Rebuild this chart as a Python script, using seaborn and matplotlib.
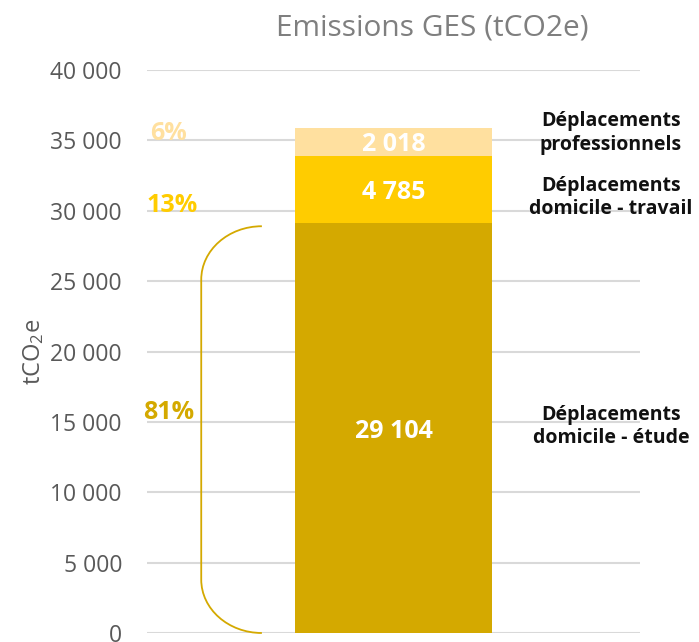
import matplotlib
matplotlib.use("Agg")
import matplotlib.pyplot as plt
import seaborn as sns
import pandas as pd
from matplotlib.path import Path
from matplotlib.patches import PathPatch
from matplotlib.ticker import FuncFormatter

categories = ["Déplacements\ndomicile - étude", "Déplacements\ndomicile - travail", "Déplacements\nprofessionnels"]
values = [29104, 4785, 2018]
value_labels = ["29 104", "4 785", "2 018"]
percents = ["81%", "13%", "6%"]
colors = ["#D4A900", "#FFCC00", "#FFE09F"]
yticks = [0, 5000, 10000, 15000, 20000, 25000, 30000, 35000, 40000]

sns.set_theme(style="white")
plt.rcParams["font.family"] = ["Open Sans", "DejaVu Sans"]
plt.rcParams["mathtext.fontset"] = "custom"
plt.rcParams["mathtext.rm"] = "Open Sans"
plt.rcParams["mathtext.it"] = "Open Sans"

fig = plt.figure(figsize=(6.99, 6.42), dpi=100)
ax = fig.add_axes([147/699, 1-633/642, (640-147)/699, (633-70)/642])

cum = []
s = 0
for v in values:
    s += v
    cum.append(s)
df = pd.DataFrame({"x": ["GES"] * 3, "cum": cum, "seg": categories})

# draw cumulative bars from the largest down so they stack visually
for i in range(len(values) - 1, -1, -1):
    sns.barplot(data=df.iloc[[i]], x="x", y="cum", color=colors[i], width=0.4,
                saturation=1, ax=ax, zorder=3, edgecolor="none")

ax.set_xlim(-0.5, 0.5)
ax.set_ylim(0, 40000)
ax.set_yticks(yticks)
ax.yaxis.set_major_formatter(FuncFormatter(lambda v, p: f"{int(v):,}".replace(",", " ")))
ax.tick_params(axis="y", labelsize=16.5, labelcolor="#595959", length=0, pad=18)
ax.set_xticks([])
ax.set_xlabel("")
ax.set_ylabel("tCO$_2$e", fontsize=17, color="#595959", labelpad=3)
ax.yaxis.grid(True, color="#D9D9D9", linewidth=1.5, zorder=0)
ax.set_axisbelow(True)
for sp in ax.spines.values():
    sp.set_visible(False)

# value labels inside bars
bottom = 0
for i, v in enumerate(values):
    ax.text(0, bottom + v / 2, value_labels[i], ha="center", va="center_baseline",
            color="white", fontsize=18, fontweight="bold", zorder=5)
    bottom += v

# percent labels on the left
pct_y = [15700, 30400, 35500]
pct_x = [-0.508, -0.5, -0.494]
for i in range(3):
    ax.text(pct_x[i], pct_y[i], percents[i], ha="left", va="center",
            color=colors[i], fontsize=18, fontweight="bold", zorder=5)

# category labels on the right
cat_y = [14670, 30940, 35500]
for i in range(3):
    ax.text(0.441, cat_y[i], categories[i], ha="center", va="center",
            color="#111111", fontsize=14, fontweight="bold", linespacing=1.25,
            zorder=5, clip_on=False)

# bracket
x0, x1 = -0.39, -0.267
ytop, ybot = 28900, 0
ry = 3800
rx = x1 - x0
k = 0.5523
verts = [
    (x1, ytop),
    (x1 - k * rx, ytop), (x0, ytop - ry + k * ry), (x0, ytop - ry),
    (x0, ybot + ry),
    (x0, ybot + ry - k * ry), (x1 - k * rx, ybot), (x1, ybot),
]
codes = [Path.MOVETO, Path.CURVE4, Path.CURVE4, Path.CURVE4, Path.LINETO,
         Path.CURVE4, Path.CURVE4, Path.CURVE4]
ax.add_patch(PathPatch(Path(verts, codes), fill=False, edgecolor="#D4A900",
                       linewidth=1.3, zorder=4, clip_on=False))

fig.text(432/699, 1-28/642, "Emissions GES (tCO2e)", ha="center", va="center",
         fontsize=21.5, color="#7F7F7F")

fig.savefig("out.png", dpi=100)
